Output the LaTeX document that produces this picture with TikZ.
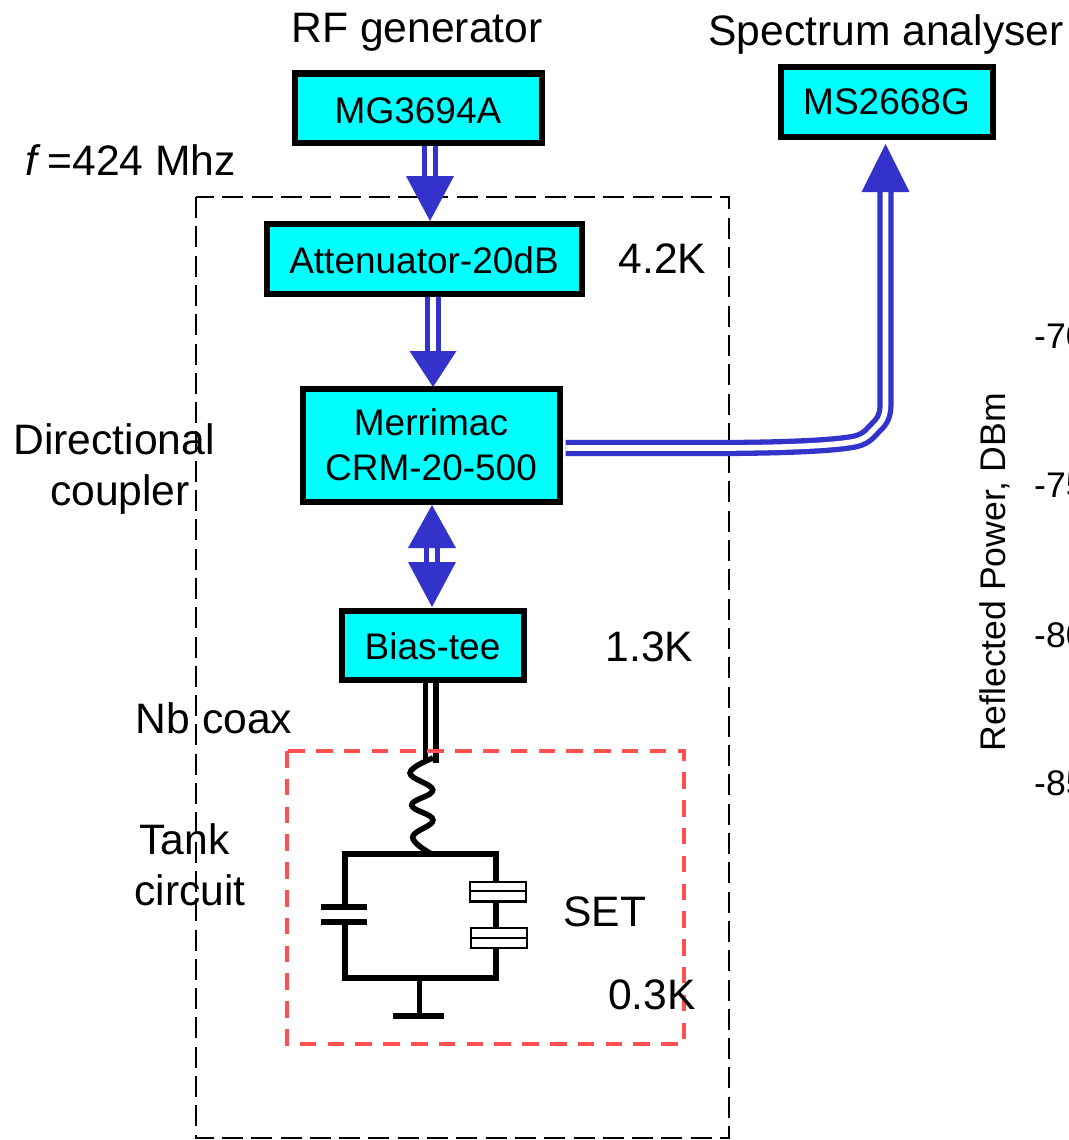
\documentclass[tikz,border=0pt]{standalone}
\usepackage{fontspec}
\setmainfont{Liberation Sans}
\usetikzlibrary{calc}
\definecolor{linkblue}{HTML}{3333CC}
\definecolor{boxcyan}{HTML}{00FFFF}
\definecolor{tankred}{HTML}{FF5050}
\tikzset{
  unitbox/.style={draw=black,fill=boxcyan,line width=6pt,inner sep=0pt,align=center,font=\fontsize{37}{45}\selectfont},
  lbl/.style={inner sep=0pt,anchor=base,font=\fontsize{42.6}{50}\selectfont},
  axislbl/.style={inner sep=0pt,font=\fontsize{35.6}{42}\selectfont},
  dbl/.style={draw=linkblue,line width=5.3pt,double=white,double distance=5.6pt,line join=round},
  coax/.style={draw=black,line width=5.5pt,double=white,double distance=5pt},
  headfill/.style={fill=linkblue},
  wire/.style={draw=black,line width=5.5pt,line join=miter},
  jj/.style={draw=black,fill=white,line width=2.4pt},
}
\begin{document}
\begin{tikzpicture}[x=1pt,y=-1pt]
\useasboundingbox (0,0) rectangle (1068,1140);
\clip (0,0) rectangle (1068,1140);
\fill[white] (0,0) rectangle (1068,1140);
% cryostat outline
\draw[black,line width=2.8pt,dash pattern=on 21pt off 8.3pt] (196,197) rectangle (729,1138);
% instruments
\node[unitbox,minimum width=247pt,minimum height=69pt,text height=30pt,text depth=0pt] (rf) at (418,108) {MG3694A};
\node[unitbox,minimum width=212pt,minimum height=69pt] (sa) at (886.5,102) {MS2668G};
\node[unitbox,minimum width=315pt,minimum height=70pt,text height=30pt,text depth=0pt] (att) at (424,258.5) {Attenuator-20dB};
\node[unitbox,minimum width=257pt,minimum height=113pt] (dc) at (431,445) {Merrimac\\CRM-20-500};
\node[unitbox,minimum width=182pt,minimum height=69pt,text height=28.5pt,text depth=0pt] (bt) at (432.5,645) {Bias-tee};
% reference x positions of the links
\coordinate (xa) at (430,0);
\coordinate (xb) at (433,0);
\coordinate (xc) at (432,0);
\coordinate (xd) at (430.5,0);
% RF -> attenuator
\draw[dbl,shorten >=43pt] (rf.south -| xa) -- (att.north -| xa);
\fill[headfill] ($(att.north -| xa)+(0,0.5)$) -- ++(-24,-45) -- ++(48,0) -- cycle;
% attenuator -> coupler
\draw[dbl,shorten >=32pt] (att.south -| xb) -- (dc.north -| xb);
\fill[headfill] ($(dc.north -| xb)+(0,1.5)$) -- ++(-23.5,-36) -- ++(47,0) -- cycle;
% coupler <-> bias tee
\draw[dbl,shorten <=41pt,shorten >=43pt] (dc.south -| xc) -- (bt.north -| xc);
\fill[headfill] ($(dc.south -| xc)+(0,0.5)$) -- ++(-24,43) -- ++(48,0) -- cycle;
\fill[headfill] ($(bt.north -| xc)+(0,-0.5)$) -- ++(-24,-45) -- ++(48,0) -- cycle;
% coupler -> analyser
\coordinate (sp) at ($(dc.east)+(3,3)$);
\coordinate (se) at ($(sa.south)+(-1,4.5)$);
\draw[dbl] (sp) -- (730,448) .. controls (790,447.5) and (835,445.5) .. (855,441.5)
   .. controls (862,440) and (866,437) .. (869,434.5) -- (880,423)
   .. controls (884,418) and (885.5,412) .. (885.5,405) -- ($(se)+(0,46)$);
\fill[headfill] (se) -- ++(-24,48) -- ++(48,0) -- cycle;
% coax
\coordinate (cx) at ($(bt.south -| xd)+(0,80)$);
\draw[coax] (bt.south -| xd) -- (cx);
% inductor
\draw[black,line width=5.5pt] plot[smooth,tension=0.7] coordinates
  {(433,758) (410,773) (432.7,790) (411.7,805) (433,820) (412.7,837) (430,853)};
% tank circuit
\draw[wire] (345,906) -- (345,854) -- (496,854) -- (496,978) -- (345,978) -- (345,922);
\draw[black,line width=5.7pt] (320.7,906.7) -- (366.7,906.7);
\draw[black,line width=5.7pt] (320.7,921.7) -- (366.7,921.7);
\draw[jj] (470,881.7) rectangle (526,901.3);
\draw[black,line width=2.4pt] (470,891) -- (526,891);
\draw[jj] (470.7,928) rectangle (526.7,948);
\draw[black,line width=2.4pt] (470.7,938) -- (526.7,938);
\draw[black,line width=5pt] (419.3,978) -- (419.3,1016);
\draw[black,line width=6pt] (392.7,1016) -- (444,1016);
% SET box
\draw[tankred,line width=4.4pt,dash pattern=on 16.5pt off 11.3pt] (287,751) rectangle (684,1044);
% labels
\node[lbl] (t1) at (417,43) {RF generator};
\node[lbl] (t2) at (886,46) {Spectrum analyser};
\node[lbl,anchor=base west] (t3) at (25,175) {\textit{f}\kern-5pt{} =424 Mhz};
\node[lbl] (t4) at (662.5,273) {4.2K};
\node[lbl] (t5) at (649.5,661) {1.3K};
\node[lbl] (t6) at (652,1009) {0.3K};
\node[lbl] (t7) at (605,926) {SET};
\node[lbl] (t8) at (114,454) {Directional};
\node[lbl] (t9) at (120,505) {coupler};
\node[lbl] (t10) at (184.5,854) {Tank};
\node[lbl] (t11) at (190,905) {circuit};
\node[lbl] (t12) at (214,733) {Nb coax};
% clipped neighbouring axis
\node[axislbl,rotate=90] (ya) at (995,572) {Reflected Power, DBm};
\node[axislbl,anchor=base west] (y1) at (1034,348) {-70};
\node[axislbl,anchor=base west] (y2) at (1034,497) {-75};
\node[axislbl,anchor=base west] (y3) at (1034,647) {-80};
\node[axislbl,anchor=base west] (y4) at (1034,795) {-85};
\end{tikzpicture}
\end{document}
